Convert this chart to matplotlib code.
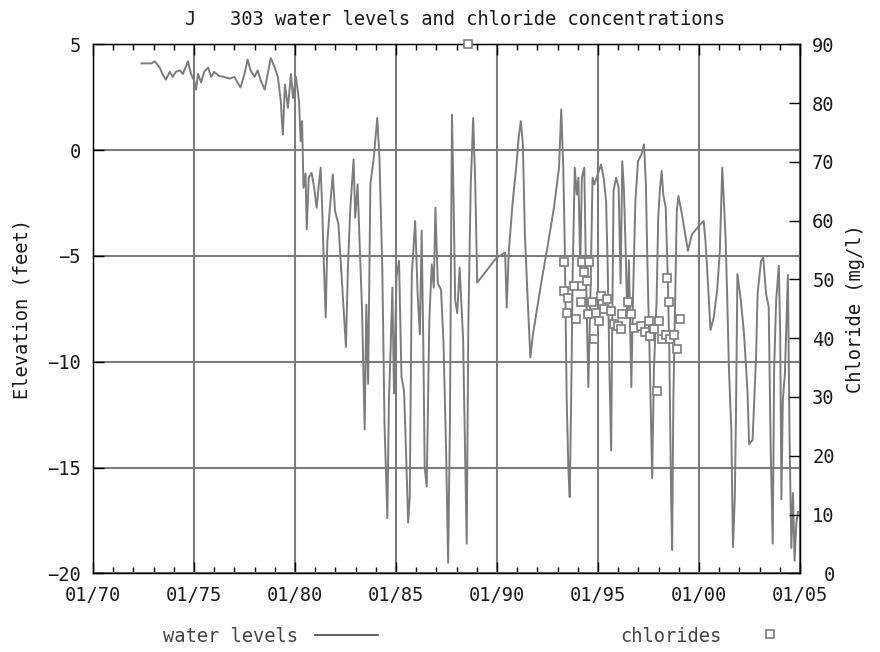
import matplotlib
matplotlib.use("Agg")
import matplotlib.pyplot as plt
from matplotlib.lines import Line2D
from matplotlib.ticker import MultipleLocator, FixedLocator

plt.rcParams['font.family'] = 'DejaVu Sans Mono'

# water levels, decimal year / feet
wl_year = [1972.4, 1972.9, 1973.05, 1973.3, 1973.45, 1973.6, 1973.8, 1973.95, 1974.1, 1974.3,
           1974.45, 1974.7, 1974.85, 1975.0, 1975.1, 1975.2, 1975.35, 1975.5, 1975.7, 1975.85,
           1976.0, 1976.25, 1976.5, 1976.75, 1977.0, 1977.15, 1977.3, 1977.5, 1977.65, 1977.8,
           1978.0, 1978.15, 1978.3, 1978.5, 1978.65, 1978.8, 1979.0, 1979.15, 1979.3, 1979.35,
           1979.4, 1979.5, 1979.65, 1979.8, 1979.9, 1980.05, 1980.2, 1980.28, 1980.35, 1980.42,
           1980.52, 1980.58, 1980.68, 1980.82, 1980.95, 1981.07, 1981.18, 1981.27, 1981.35, 1981.42,
           1981.52, 1981.6, 1981.73, 1981.87, 1981.98, 1982.15, 1982.28, 1982.4, 1982.52, 1982.62,
           1982.73, 1982.9, 1982.98, 1983.1, 1983.2, 1983.32, 1983.45, 1983.53, 1983.62, 1983.73,
           1983.9, 1984.07, 1984.18, 1984.32, 1984.43, 1984.57, 1984.65, 1984.73, 1984.82, 1984.9,
           1985.02, 1985.15, 1985.27, 1985.4, 1985.52, 1985.6, 1985.68, 1985.78, 1985.95, 1986.07,
           1986.18, 1986.27, 1986.35, 1986.42, 1986.52, 1986.65, 1986.77, 1986.87, 1986.95, 1987.07,
           1987.23, 1987.35, 1987.48, 1987.58, 1987.67, 1987.77, 1987.85, 1987.93, 1988.03, 1988.15,
           1988.32, 1988.42, 1988.5, 1988.58, 1988.7, 1988.82, 1988.92, 1989.02, 1989.98, 1990.4,
           1990.48, 1990.58, 1990.78, 1990.95, 1991.07, 1991.18, 1991.28, 1991.38, 1991.52, 1991.65,
           1991.78, 1992.15, 1992.52, 1992.82, 1993.07, 1993.18, 1993.28, 1993.35, 1993.45, 1993.53,
           1993.6, 1993.67, 1993.75, 1993.85, 1993.95, 1994.03, 1994.12, 1994.2, 1994.32, 1994.4,
           1994.52, 1994.62, 1994.73, 1994.82, 1995.15, 1995.28, 1995.4, 1995.48, 1995.57, 1995.65,
           1995.7, 1995.77, 1995.9, 1996.02, 1996.12, 1996.2, 1996.28, 1996.37, 1996.45, 1996.53,
           1996.65, 1996.73, 1996.85, 1996.98, 1997.15, 1997.28, 1997.37, 1997.45, 1997.57, 1997.68,
           1997.77, 1997.9, 1997.98, 1998.07, 1998.15, 1998.23, 1998.35, 1998.45, 1998.53, 1998.62,
           1998.67, 1998.73, 1998.82, 1998.9, 1998.98, 1999.15, 1999.32, 1999.45, 1999.65, 1999.98,
           2000.23, 2000.32, 2000.4, 2000.57, 2000.73, 2000.9, 2001.03, 2001.15, 2001.23, 2001.32,
           2001.4, 2001.48, 2001.6, 2001.68, 2001.77, 2001.83, 2001.9, 2002.07, 2002.23, 2002.4,
           2002.48, 2002.65, 2002.82, 2002.9, 2003.07, 2003.18, 2003.32, 2003.45, 2003.55, 2003.65,
           2003.72, 2003.82, 2003.95, 2004.02, 2004.08, 2004.15, 2004.25, 2004.4, 2004.48, 2004.57,
           2004.65, 2004.73, 2004.82, 2004.9]
wl_ft = [4.1, 4.1, 4.2, 3.9, 3.57, 3.33, 3.7, 3.46, 3.7, 3.77,
         3.6, 4.2, 3.6, 3.3, 2.86, 3.6, 3.2, 3.7, 3.9, 3.46,
         3.7, 3.5, 3.46, 3.38, 3.46, 3.2, 2.96, 3.6, 4.28, 3.77,
         3.46, 3.77, 3.3, 2.86, 3.6, 4.35, 3.9, 3.46, 2.3, 1.37,
         0.74, 3.1, 2.0, 3.6, 2.47, 3.46, 2.3, 0.42, 1.37, -1.78,
         -1.1, -3.74, -1.3, -1.07, -1.78, -2.72, -1.62, -0.83, -2.87, -5.2,
         -7.9, -4.3, -2.7, -1.15, -2.87, -3.5, -5.55, -7.4, -9.3, -5.55,
         -2.87, -0.44, -3.2, -1.62, -4.45, -7.6, -13.2, -7.3, -11.04, -1.62,
         -0.36, 1.52, -0.36, -5.55, -12.9, -17.4, -11.8, -9.5, -6.5, -11.5,
         -6.0, -5.24, -10.7, -11.4, -15.0, -17.6, -16.4, -5.9, -3.35, -6.8,
         -8.7, -3.8, -9.1, -15.0, -15.9, -8.0, -5.4, -6.5, -2.72, -6.3,
         -6.6, -9.1, -14.2, -19.5, -12.8, 1.68, -2.4, -7.1, -7.7, -5.55,
         -8.9, -14.2, -18.6, -8.3, -1.62, 1.52, -1.46, -6.26, -5.08, -4.84,
         -7.44, -4.84, -2.4, -0.83, 0.58, 1.37, 0.27, -3.98, -7.1, -9.8,
         -8.7, -6.5, -4.45, -2.72, -0.83, 1.92, -0.83, -4.3, -11.8, -15.0,
         -16.4, -11.8, -5.55, -0.83, -2.1, -1.3, -5.55, -1.3, -0.83, -5.55,
         -11.2, -7.1, -1.3, -1.62, -0.68, -1.3, -2.4, -5.55, -10.6, -14.2,
         -8.7, -1.9, -1.3, -1.78, -6.3, -0.52, -1.78, -4.8, -7.9, -5.2,
         -11.2, -7.1, -2.4, -0.52, -0.2, 0.27, -1.62, -5.55, -10.3, -15.5,
         -10.3, -7.1, -3.2, -1.78, -0.99, -2.1, -2.7, -5.9, -9.5, -16.5,
         -18.9, -11.8, -7.1, -2.87, -2.17, -3.0, -3.98, -4.76, -3.98, -3.6,
         -3.35, -4.3, -5.55, -8.5, -7.9, -6.6, -4.8, -0.83, -2.4, -4.3,
         -7.1, -10.3, -13.25, -18.76, -16.5, -12.5, -5.86, -7.1, -8.7, -11.4,
         -13.9, -13.7, -9.9, -6.8, -5.24, -5.08, -6.8, -7.4, -14.2, -18.6,
         -10.3, -7.1, -5.47, -8.7, -16.5, -11.8, -10.6, -5.9, -13.4, -18.8,
         -16.2, -19.4, -17.6, -17.1]

# chlorides, decimal year / mg/l
cl_year = [1988.55, 1993.3, 1993.3, 1993.45, 1993.5, 1993.8, 1993.9, 1994.15, 1994.2, 1994.2,
           1994.3, 1994.45, 1994.5, 1994.57, 1994.7, 1994.8, 1994.9, 1995.07, 1995.15, 1995.3,
           1995.45, 1995.65, 1995.8, 1996.0, 1996.15, 1996.2, 1996.5, 1996.65, 1996.8, 1997.15,
           1997.35, 1997.5, 1997.55, 1997.75, 1997.9, 1998.0, 1998.15, 1998.35, 1998.4, 1998.5,
           1998.57, 1998.75, 1998.9, 1999.07]
cl_mg = [90, 52.9, 48.0, 44.3, 46.9, 48.9, 43.2, 46.1, 52.9, 48.9,
         51.2, 49.7, 44.1, 52.9, 46.1, 39.8, 44.3, 42.9, 47.2, 44.9,
         46.6, 44.6, 42.5, 42.1, 41.5, 44.1, 46.1, 44.1, 41.7, 42.1,
         41.0, 42.9, 40.3, 41.5, 31.0, 42.9, 39.8, 40.5, 50.3, 46.1,
         39.8, 40.6, 38.1, 43.2]

x_ticks = [1970, 1975, 1980, 1985, 1990, 1995, 2000, 2005]
x_labels = ["01/70", "01/75", "01/80", "01/85", "01/90", "01/95", "01/00", "01/05"]

gray = "#7c7c7c"
txt = "#1a1a1a"
fs = 13.5

fig = plt.figure(figsize=(8.8, 6.52), dpi=100)
ax = fig.add_axes([0.1057, 0.1207, 0.8034, 0.8113])
ax2 = ax.twinx()

ax.plot(wl_year, wl_ft, color=gray, lw=1.4, zorder=3)
ax.set_xlim(1970, 2005)
ax.set_ylim(-20, 5)
ax.xaxis.set_major_locator(FixedLocator(x_ticks))
ax.set_xticklabels(x_labels)
ax.xaxis.set_minor_locator(MultipleLocator(1))
ax.yaxis.set_major_locator(MultipleLocator(5))
ax.tick_params(axis='both', which='major', direction='in', length=8, width=1, labelsize=fs,
               labelcolor=txt, top=True)
ax.tick_params(axis='x', which='major', pad=9)
ax.tick_params(axis='y', which='major', pad=9)
ax.tick_params(axis='x', which='minor', direction='in', length=4, width=1, top=True)
ax.grid(True, color=gray, lw=1.5)
ax.set_ylabel("Elevation (feet)", fontsize=fs, color=txt, va='center', ha='center')
ax.yaxis.set_label_coords(-0.101, 0.5)
for s in ax.spines.values():
    s.set_linewidth(1)

ax2.plot(cl_year, cl_mg, ls='none', marker='s', ms=6, mfc='white', mec=gray, mew=1.2,
         clip_on=False, zorder=4)
ax2.set_ylim(0, 90)
ax2.yaxis.set_major_locator(MultipleLocator(10))
ax2.tick_params(axis='y', direction='in', length=8, width=1, labelsize=fs, labelcolor=txt, pad=25)
for lab in ax2.get_yticklabels():
    lab.set_horizontalalignment('right')
ax2.set_ylabel("Chloride (mg/l)", fontsize=fs, color=txt, va='center', ha='center')
ax2.yaxis.set_label_coords(1.079, 0.5)

fig.suptitle("J   303 water levels and chloride concentrations", fontsize=fs, color=txt,
             x=0.517, y=0.985)

fig.text(0.185, 0.016, "water levels", fontsize=fs, color="#444444")
fig.add_artist(Line2D([0.358, 0.43], [0.026, 0.026], transform=fig.transFigure,
                      color="#444444", lw=1.2))
fig.text(0.705, 0.016, "chlorides", fontsize=fs, color="#444444")
fig.add_artist(Line2D([0.875], [0.027], transform=fig.transFigure, ls='none', marker='s', ms=6,
                      mfc='white', mec=gray, mew=1.2))

fig.savefig("out.png", dpi=100)
